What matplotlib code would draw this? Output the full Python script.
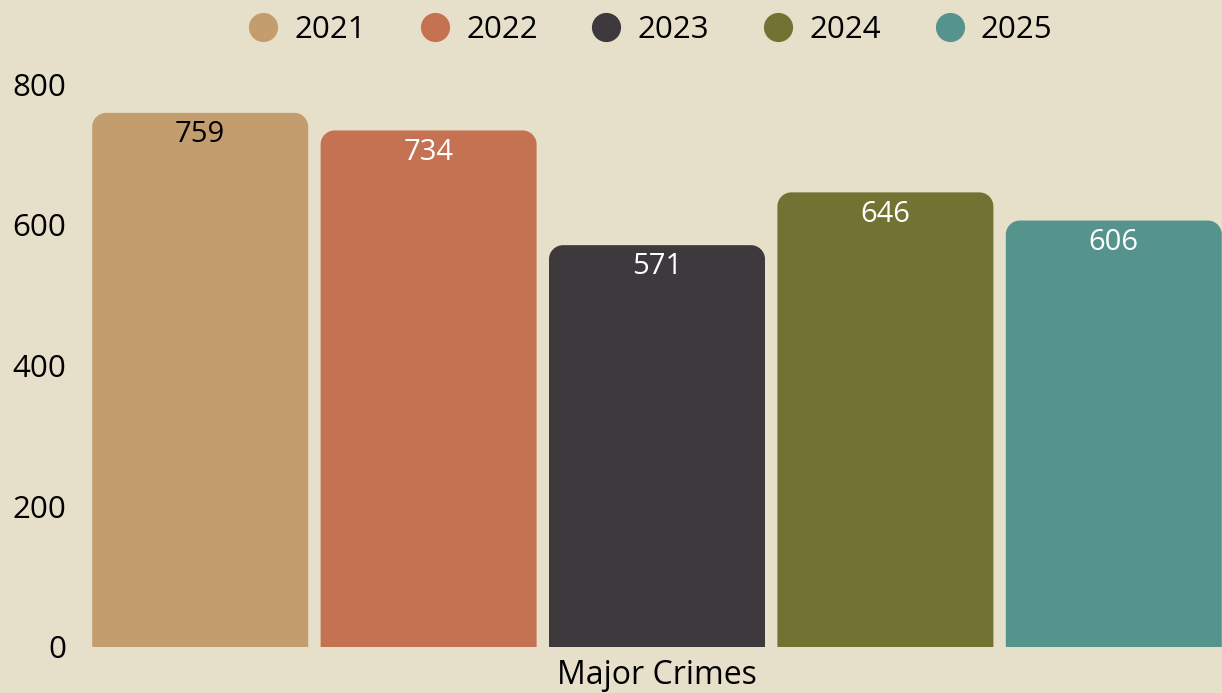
import numpy as np
import matplotlib.pyplot as plt
from matplotlib.lines import Line2D
from matplotlib.path import Path
from matplotlib.patches import PathPatch

category = "Major Crimes"
years = ["2021", "2022", "2023", "2024", "2025"]
counts = [759, 734, 571, 646, 606]
colors = ["#C49D6E", "#C47251", "#3E393C", "#727233", "#55948C"]
label_colors = ["black", "white", "white", "white", "white"]

bg = "#E6E0CA"
plt.rcParams['font.family'] = ['Open Sans', 'DejaVu Sans']

fig = plt.figure(figsize=(12.22, 6.93), dpi=100, facecolor=bg)
W, H = 1222, 693
# axes: x 86..1228 px, y 84..647 px
ax = fig.add_axes([86 / W, (H - 647) / H, (1228 - 86) / W, (647 - 84) / H])
ax.set_facecolor(bg)

x = np.arange(len(years))
bars = ax.bar(x, counts, width=216 / 228.4, color=colors)
ax.set_xlim(-0.5, 4.5)
ax.set_ylim(0, 800)

# swap plain rectangles for ones with rounded top corners
rad_px = 14
px_x = (1228 - 86) / 5.0       # px per x unit
px_y = (647 - 84) / 800.0      # px per y unit
rx, ry = rad_px / px_x, rad_px / px_y
k = 0.5523
for rect, c in zip(bars, colors):
    x0, y0 = rect.get_x(), rect.get_y()
    w, h = rect.get_width(), rect.get_height()
    x1, y1 = x0 + w, y0 + h
    verts = [(x0, y0), (x0, y1 - ry),
             (x0, y1 - ry + k * ry), (x0 + rx - k * rx, y1), (x0 + rx, y1),
             (x1 - rx, y1),
             (x1 - rx + k * rx, y1), (x1, y1 - ry + k * ry), (x1, y1 - ry),
             (x1, y0), (x0, y0)]
    codes = [Path.MOVETO, Path.LINETO,
             Path.CURVE4, Path.CURVE4, Path.CURVE4,
             Path.LINETO,
             Path.CURVE4, Path.CURVE4, Path.CURVE4,
             Path.LINETO, Path.CLOSEPOLY]
    rect.set_visible(False)
    ax.add_patch(PathPatch(Path(verts, codes), facecolor=c, edgecolor='none'))

for xi, v, lc in zip(x, counts, label_colors):
    ax.text(xi, v - 31, str(v), ha='center', va='center', fontsize=21, color=lc)

for s in ax.spines.values():
    s.set_visible(False)
ax.set_yticks([0, 200, 400, 600, 800])
ax.tick_params(axis='y', length=0, labelsize=22.5, pad=14)
ax.set_xticks([])
fig.text(657 / W, 1 - 675 / H, category, ha='center', va='center', fontsize=23)

handles = [Line2D([], [], marker='o', linestyle='none', markersize=21,
                  markerfacecolor=c, markeredgecolor='none') for c in colors]
leg = fig.legend(handles, years, loc='center', bbox_to_anchor=(650 / W, 1 - 30 / H),
                 ncol=5, frameon=False, handlelength=1.0, handletextpad=0.5,
                 columnspacing=1.7, prop={'size': 22.5})

fig.savefig("out.png", dpi=100, facecolor=bg)
